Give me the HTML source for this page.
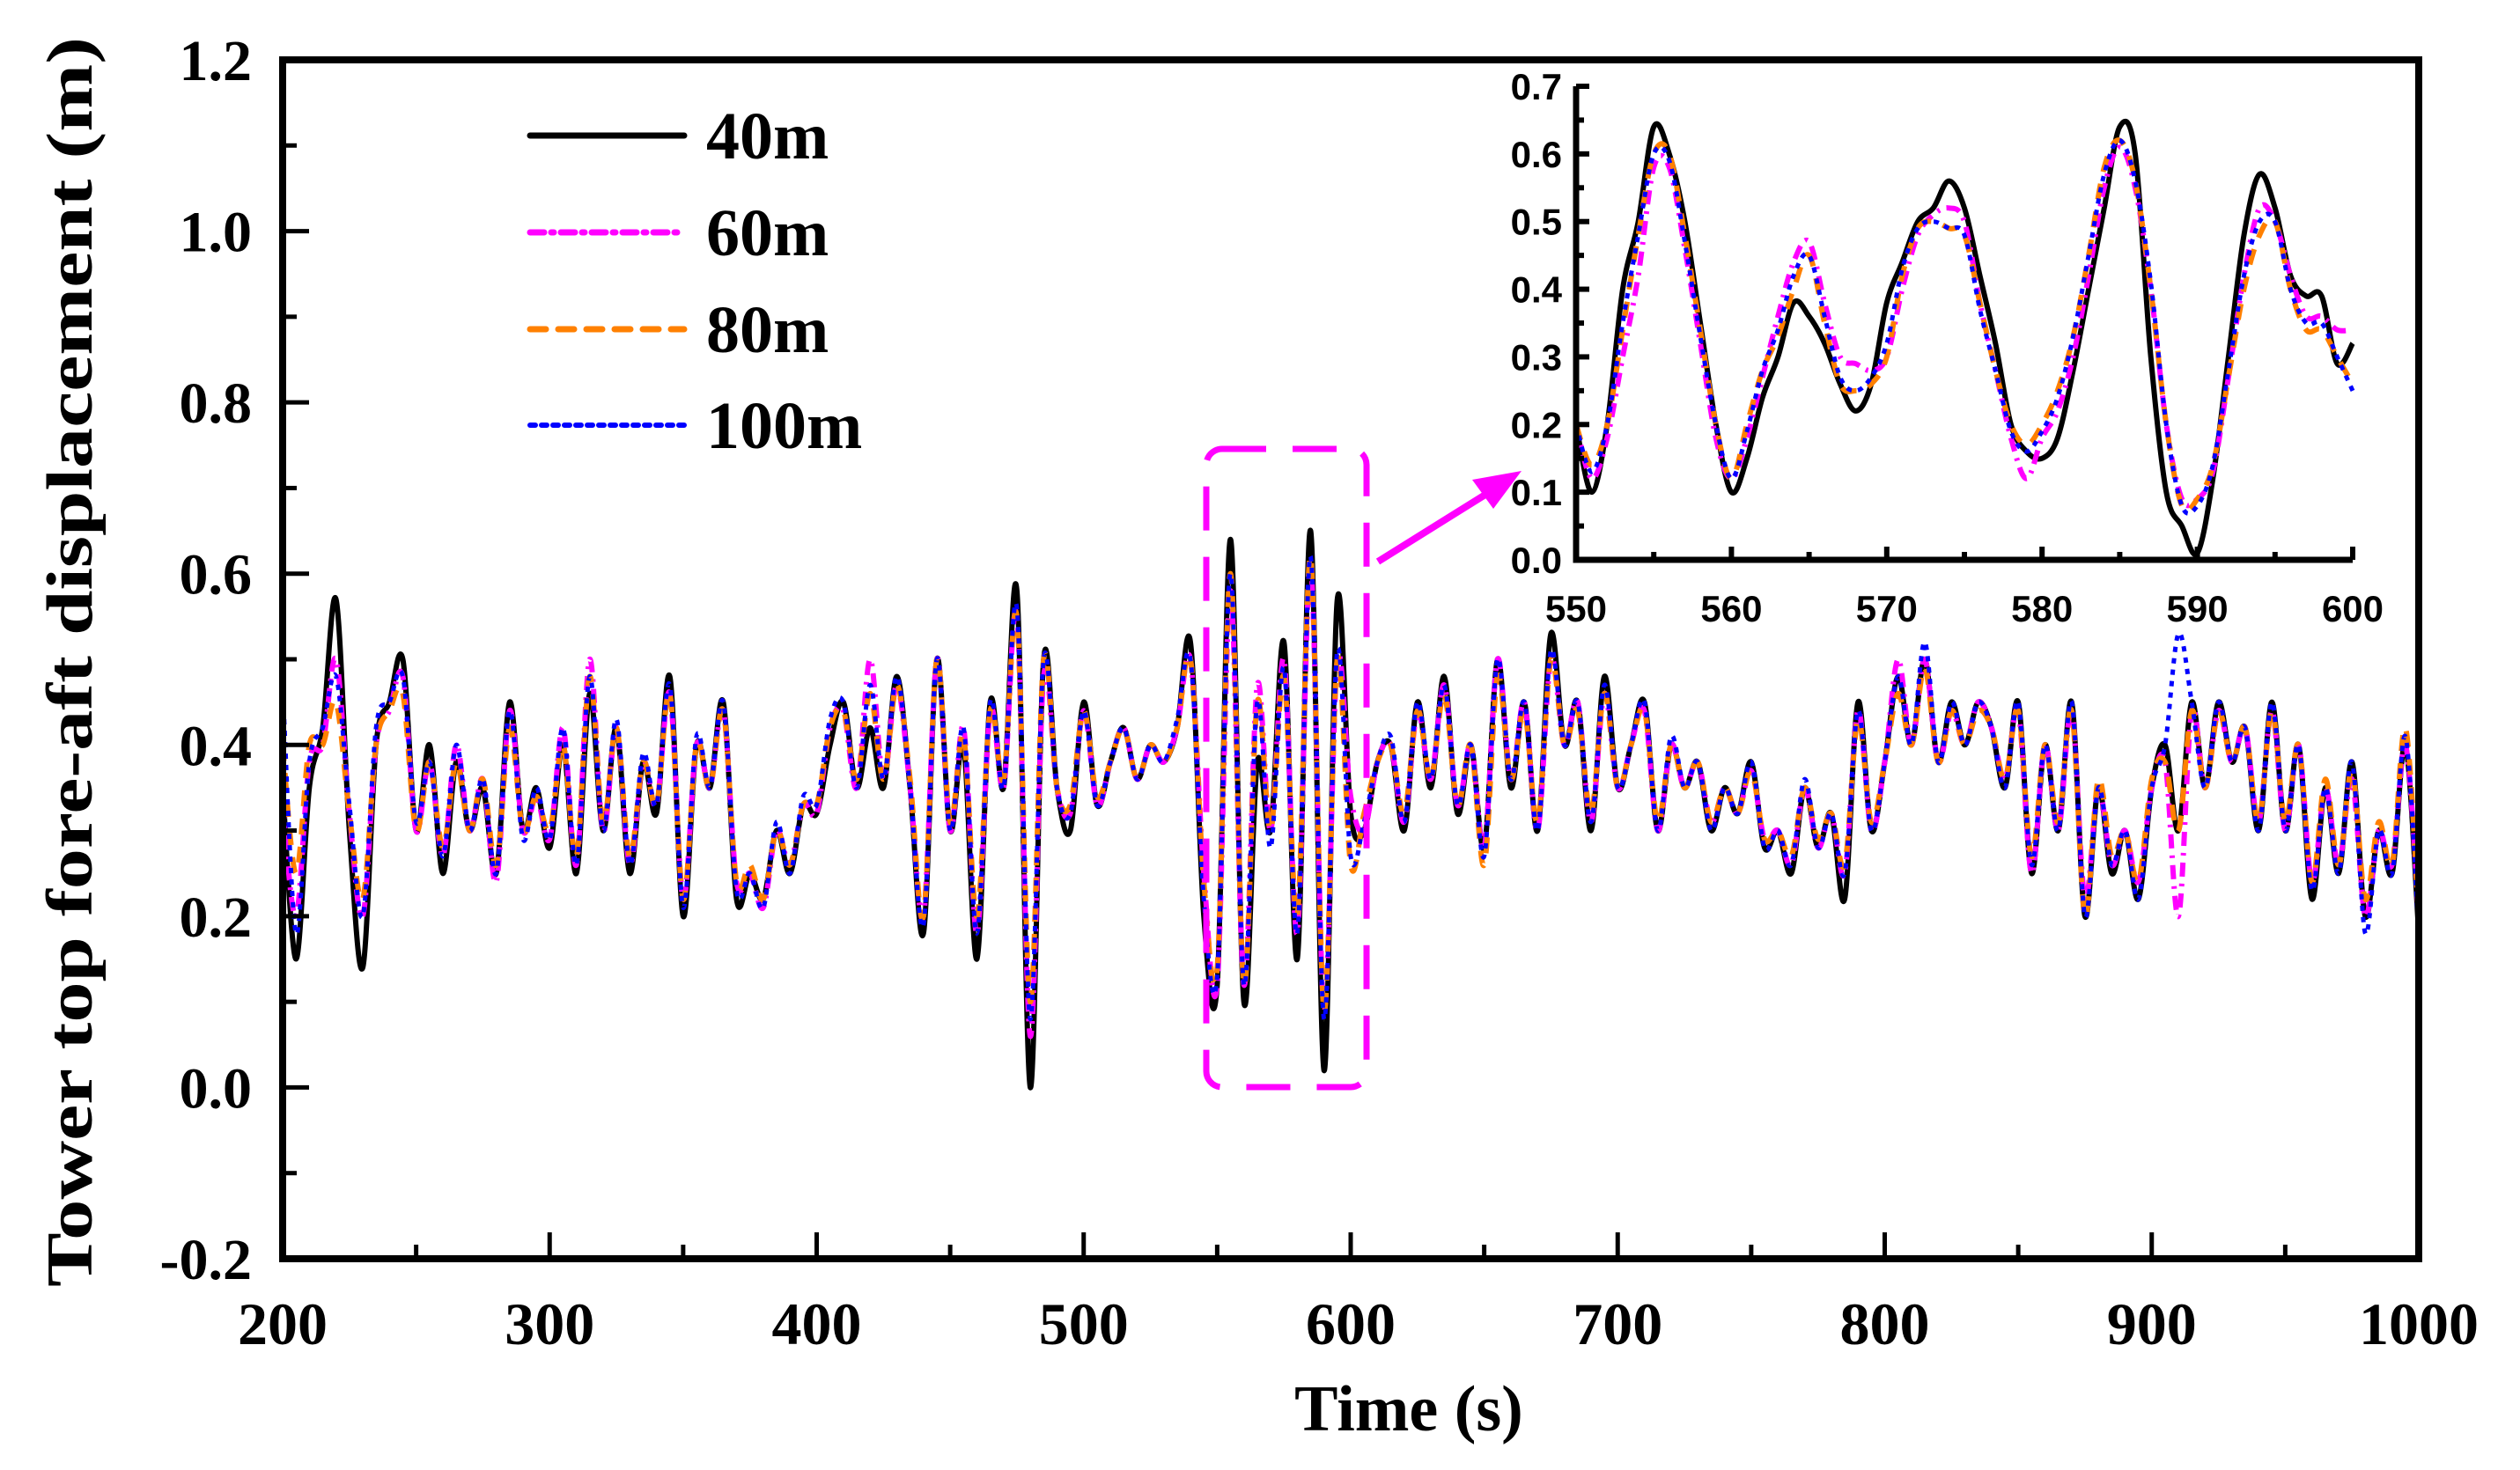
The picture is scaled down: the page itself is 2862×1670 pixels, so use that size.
<!DOCTYPE html>
<html><head><meta charset="utf-8"><style>
html,body{margin:0;padding:0;background:#fff;}
svg{display:block;}
</style></head><body>
<svg id="chart" width="2862" height="1670" viewBox="0 0 2862 1670" xmlns="http://www.w3.org/2000/svg">
<g id="main"></g>
<g id="inset"></g>
<g id="legend"></g>
</svg>
<script>
// ---------- main chart data (t = 200..1000 step 5) ----------
const mainStart = 200, mainStep = 5;
const s40 = [0.35,0.15,0.35,0.42,0.57,0.3,0.14,0.4,0.45,0.5,
0.3,0.4,0.25,0.38,0.3,0.35,0.25,0.45,0.3,0.35,
0.28,0.4,0.25,0.46,0.3,0.42,0.25,0.38,0.32,0.48,
0.2,0.4,0.35,0.45,0.22,0.25,0.22,0.3,0.25,0.33,
0.32,0.4,0.45,0.35,0.42,0.35,0.48,0.35,0.18,0.5,
0.3,0.4,0.15,0.45,0.35,0.58,0.0,0.5,0.35,0.3,
0.45,0.33,0.38,0.42,0.36,0.4,0.38,0.42,0.52,0.2,
0.12,0.64,0.1,0.38,0.3,0.52,0.15,0.65,0.02,0.57,
0.32,0.3,0.38,0.4,0.3,0.45,0.35,0.48,0.32,0.4,
0.28,0.5,0.35,0.45,0.3,0.53,0.4,0.45,0.3,0.48,
0.35,0.4,0.45,0.3,0.4,0.35,0.38,0.3,0.35,0.32,
0.38,0.28,0.3,0.25,0.35,0.28,0.32,0.22,0.45,0.3,
0.38,0.48,0.4,0.5,0.38,0.45,0.4,0.45,0.42,0.35,
0.45,0.25,0.4,0.3,0.45,0.2,0.35,0.25,0.3,0.22,
0.35,0.4,0.3,0.45,0.35,0.45,0.38,0.42,0.3,0.45,
0.3,0.4,0.22,0.35,0.25,0.38,0.2,0.3,0.25,0.4,0.18];
const s60 = [0.33,0.2,0.38,0.4,0.5,0.32,0.2,0.4,0.44,0.48,
0.3,0.38,0.27,0.4,0.3,0.36,0.24,0.44,0.3,0.34,
0.29,0.42,0.26,0.5,0.3,0.42,0.26,0.38,0.33,0.46,
0.22,0.4,0.35,0.44,0.24,0.25,0.21,0.3,0.26,0.33,
0.32,0.42,0.44,0.35,0.5,0.36,0.47,0.35,0.2,0.5,
0.3,0.42,0.18,0.44,0.35,0.55,0.06,0.48,0.35,0.32,
0.44,0.33,0.38,0.42,0.36,0.4,0.38,0.42,0.5,0.25,
0.12,0.58,0.12,0.47,0.3,0.5,0.18,0.61,0.09,0.5,
0.34,0.3,0.38,0.4,0.31,0.44,0.36,0.47,0.33,0.4,
0.28,0.5,0.36,0.45,0.3,0.5,0.4,0.45,0.31,0.46,
0.35,0.4,0.44,0.3,0.4,0.35,0.38,0.31,0.35,0.32,
0.37,0.29,0.3,0.26,0.35,0.28,0.32,0.25,0.44,0.3,
0.38,0.5,0.4,0.5,0.38,0.44,0.4,0.45,0.42,0.36,
0.44,0.25,0.4,0.3,0.44,0.22,0.35,0.26,0.3,0.24,
0.35,0.38,0.2,0.44,0.35,0.44,0.38,0.42,0.31,0.44,
0.3,0.4,0.24,0.35,0.26,0.36,0.2,0.3,0.26,0.4,0.2];
const s80 = [0.4,0.25,0.4,0.4,0.45,0.32,0.22,0.4,0.44,0.46,
0.3,0.38,0.28,0.38,0.3,0.36,0.26,0.42,0.3,0.34,
0.3,0.4,0.27,0.48,0.31,0.42,0.27,0.38,0.33,0.46,
0.22,0.4,0.35,0.44,0.24,0.26,0.22,0.3,0.26,0.33,
0.33,0.42,0.44,0.36,0.46,0.36,0.47,0.36,0.2,0.5,
0.31,0.41,0.2,0.44,0.36,0.55,0.1,0.5,0.35,0.33,
0.44,0.34,0.38,0.42,0.36,0.4,0.38,0.42,0.5,0.24,
0.14,0.6,0.12,0.45,0.3,0.48,0.2,0.62,0.09,0.5,
0.26,0.32,0.38,0.4,0.32,0.44,0.36,0.46,0.33,0.4,
0.26,0.48,0.36,0.44,0.31,0.5,0.4,0.44,0.32,0.46,
0.35,0.4,0.44,0.31,0.4,0.35,0.38,0.31,0.35,0.32,
0.37,0.29,0.3,0.27,0.35,0.29,0.32,0.26,0.43,0.31,
0.38,0.46,0.4,0.49,0.38,0.44,0.4,0.44,0.42,0.36,
0.44,0.27,0.4,0.31,0.44,0.2,0.36,0.27,0.3,0.24,
0.36,0.38,0.3,0.44,0.35,0.44,0.38,0.42,0.31,0.44,
0.31,0.4,0.24,0.36,0.26,0.37,0.22,0.31,0.26,0.42,0.2];
const s100 = [0.47,0.18,0.38,0.42,0.48,0.33,0.2,0.42,0.45,0.48,
0.31,0.38,0.27,0.4,0.3,0.36,0.25,0.44,0.29,0.35,
0.29,0.42,0.26,0.48,0.3,0.43,0.26,0.39,0.33,0.47,
0.21,0.41,0.35,0.45,0.23,0.25,0.21,0.31,0.25,0.34,
0.33,0.43,0.45,0.35,0.47,0.36,0.48,0.35,0.19,0.5,
0.3,0.42,0.18,0.45,0.35,0.56,0.08,0.5,0.35,0.32,
0.44,0.33,0.38,0.42,0.36,0.4,0.38,0.43,0.5,0.22,
0.13,0.6,0.12,0.45,0.28,0.49,0.18,0.62,0.08,0.51,
0.27,0.31,0.38,0.41,0.31,0.45,0.36,0.47,0.33,0.4,
0.27,0.5,0.36,0.45,0.3,0.51,0.4,0.45,0.31,0.47,
0.35,0.4,0.45,0.3,0.41,0.35,0.38,0.3,0.35,0.32,
0.38,0.28,0.3,0.26,0.36,0.28,0.32,0.25,0.44,0.3,
0.38,0.48,0.4,0.52,0.38,0.45,0.4,0.45,0.42,0.35,
0.45,0.26,0.4,0.3,0.45,0.2,0.35,0.26,0.3,0.22,
0.35,0.4,0.53,0.45,0.35,0.45,0.38,0.42,0.3,0.45,
0.3,0.4,0.23,0.35,0.25,0.38,0.18,0.3,0.25,0.41,0.18];
const mainXTicks = [200,300,400,500,600,700,800,900,1000];
const mainXTickLabels = ["200","300","400","500","600","700","800","900","1000"];
const mainYTicks = [-0.2,0,0.2,0.4,0.6,0.8,1.0,1.2];
const mainYTickLabels = ["-0.2","0.0","0.2","0.4","0.6","0.8","1.0","1.2"];
const seriesNames = ["40m","60m","80m","100m"];

// ---------- inset data (t = 550..600 step 1) ----------
const insetStart = 550, insetStep = 1;
const i40 = [0.2,0.1,0.2,0.4,0.5,0.64,0.6,0.5,0.35,0.2,0.1,0.15,0.24,0.3,0.38,0.36,0.32,0.26,0.22,0.26,0.38,0.44,0.5,0.52,0.56,0.52,0.42,0.32,0.2,0.16,0.15,0.18,0.28,0.4,0.52,0.64,0.6,0.3,0.1,0.05,0.01,0.12,0.3,0.48,0.57,0.52,0.42,0.39,0.39,0.29,0.32];
const i60 = [0.2,0.12,0.18,0.3,0.42,0.58,0.58,0.46,0.32,0.18,0.12,0.18,0.27,0.36,0.44,0.47,0.38,0.3,0.29,0.28,0.3,0.4,0.48,0.51,0.52,0.5,0.38,0.28,0.18,0.12,0.18,0.22,0.3,0.42,0.55,0.61,0.55,0.4,0.2,0.09,0.09,0.13,0.27,0.42,0.52,0.5,0.42,0.36,0.36,0.34,0.34];
const i80 = [0.2,0.14,0.2,0.34,0.48,0.6,0.6,0.48,0.34,0.2,0.12,0.2,0.28,0.33,0.4,0.45,0.35,0.26,0.25,0.26,0.3,0.42,0.49,0.5,0.49,0.48,0.38,0.28,0.2,0.17,0.2,0.25,0.33,0.45,0.58,0.62,0.56,0.4,0.2,0.08,0.09,0.14,0.27,0.4,0.48,0.5,0.4,0.34,0.34,0.3,0.26];
const i100 = [0.2,0.13,0.2,0.35,0.48,0.6,0.59,0.47,0.33,0.2,0.12,0.19,0.28,0.34,0.42,0.45,0.36,0.27,0.25,0.27,0.32,0.43,0.49,0.5,0.49,0.48,0.37,0.28,0.19,0.16,0.19,0.24,0.33,0.45,0.57,0.62,0.56,0.41,0.2,0.08,0.08,0.14,0.28,0.42,0.5,0.5,0.4,0.35,0.35,0.3,0.25];
const insetXTicks = [550,560,570,580,590,600];
const insetXTickLabels = ["550","560","570","580","590","600"];
const insetYTicks = [0,0.1,0.2,0.3,0.4,0.5,0.6,0.7];
const insetYTickLabels = ["0.0","0.1","0.2","0.3","0.4","0.5","0.6","0.7"];

const NS = "http://www.w3.org/2000/svg";
function mk(parent, tag, attrs, text){
  const e = document.createElementNS(NS, tag);
  for (const k in attrs) e.setAttribute(k, attrs[k]);
  if (text !== undefined) e.textContent = text;
  parent.appendChild(e);
  return e;
}
function smoothPath(pts){
  let d = "M" + pts[0][0].toFixed(1) + " " + pts[0][1].toFixed(1);
  for (let i = 0; i < pts.length - 1; i++) {
    const p0 = pts[Math.max(0, i-1)], p1 = pts[i], p2 = pts[i+1], p3 = pts[Math.min(pts.length-1, i+2)];
    const c1x = p1[0] + (p2[0]-p0[0])/6, c1y = p1[1] + (p2[1]-p0[1])/6;
    const c2x = p2[0] - (p3[0]-p1[0])/6, c2y = p2[1] - (p3[1]-p1[1])/6;
    d += " C" + c1x.toFixed(1) + " " + c1y.toFixed(1) + " " + c2x.toFixed(1) + " " + c2y.toFixed(1) + " " + p2[0].toFixed(1) + " " + p2[1].toFixed(1);
  }
  return d;
}
const styles = [
  {stroke:"#000000", w:6, dash:""},
  {stroke:"#ff00ff", w:6, dash:"16 8 3 8"},
  {stroke:"#ff8000", w:6, dash:"18 14"},
  {stroke:"#0000ff", w:5, dash:"6 7"}
];

// ---------- main axes ----------
const M = {l:321, r:2747, t:68, b:1430, x0:200, x1:1000, y0:-0.2, y1:1.2};
const mx = v => M.l + (v - M.x0) / (M.x1 - M.x0) * (M.r - M.l);
const my = v => M.b - (v - M.y0) / (M.y1 - M.y0) * (M.b - M.t);
const main = document.getElementById("main");

const clip = mk(main, "clipPath", {id:"mclip"});
mk(clip, "rect", {x:M.l, y:M.t, width:M.r-M.l, height:M.b-M.t});

const seriesG = mk(main, "g", {"clip-path":"url(#mclip)"});
[s40, s60, s80, s100].forEach((arr, i) => {
  const pts = arr.map((v, k) => [mx(mainStart + k * mainStep), my(v)]);
  const p = mk(seriesG, "path", {d:smoothPath(pts), fill:"none", stroke:styles[i].stroke, "stroke-width":styles[i].w, "stroke-dasharray":styles[i].dash, "stroke-linejoin":"round"});
  
  
});

const frame = mk(main, "rect", {x:M.l, y:M.t, width:M.r-M.l, height:M.b-M.t, fill:"none", stroke:"#000", "stroke-width":8});



for (let v = 250; v < 1000; v += 100) {
  mk(main, "line", {x1:mx(v), x2:mx(v), y1:M.b, y2:M.b-16, stroke:"#000", "stroke-width":5});
}
for (let v = -0.1; v < 1.2; v += 0.2) {
  mk(main, "line", {x1:M.l, x2:M.l+16, y1:my(v), y2:my(v), stroke:"#000", "stroke-width":5});
}
mainXTicks.forEach((v, i) => {
  mk(main, "line", {x1:mx(v), x2:mx(v), y1:M.b, y2:M.b-30, stroke:"#000", "stroke-width":5});
  const t = mk(main, "text", {x:mx(v), y:1527, "text-anchor":"middle", "font-family":"Liberation Serif, serif", "font-weight":"bold", "font-size":68}, mainXTickLabels[i]);
  
  
});
mainYTicks.forEach((v, i) => {
  mk(main, "line", {x1:M.l, x2:M.l+30, y1:my(v), y2:my(v), stroke:"#000", "stroke-width":5});
  const t = mk(main, "text", {x:286, y:my(v)+23, "text-anchor":"end", "font-family":"Liberation Serif, serif", "font-weight":"bold", "font-size":66}, mainYTickLabels[i]);
  
  
});
const xt = mk(main, "text", {x:1600, y:1625, "text-anchor":"middle", "font-family":"Liberation Serif, serif", "font-weight":"bold", "font-size":74}, "Time (s)");


const yt = mk(main, "text", {x:0, y:0, transform:"translate(104,752) rotate(-90)", "text-anchor":"middle", "font-family":"Liberation Serif, serif", "font-weight":"bold", "font-size":74, textLength:1420, lengthAdjust:"spacingAndGlyphs"}, "Tower top fore-aft displacement (m)");



// zoom rectangle + arrow
const zr = mk(main, "rect", {x:1370, y:510, width:182, height:725, rx:18, fill:"none", stroke:"#ff00ff", "stroke-width":7, "stroke-dasharray":"50 30"});


const ar = mk(main, "line", {x1:1565, y1:638, x2:1690, y2:560, stroke:"#ff00ff", "stroke-width":8});


const ah = mk(main, "polygon", {points:"1728,535 1672,545 1696,578", fill:"#ff00ff"});



// ---------- legend ----------
const legend = document.getElementById("legend");
const legY = [154, 264, 374, 483];
seriesNames.forEach((n, i) => {
  const g = mk(legend, "g", {});
  
  
  mk(g, "line", {x1:602, x2:777, y1:legY[i], y2:legY[i], stroke:styles[i].stroke, "stroke-width":styles[i].w + 1, "stroke-dasharray":styles[i].dash, "stroke-linecap":"round"});
  mk(g, "text", {x:802, y:legY[i]+26, "font-family":"Liberation Serif, serif", "font-weight":"bold", "font-size":76}, n);
});

// ---------- inset ----------
const I = {l:1790, r:2672, t:98, b:636, x0:550, x1:600, y0:0, y1:0.7};
const ix = v => I.l + (v - I.x0) / (I.x1 - I.x0) * (I.r - I.l);
const iy = v => I.b - (v - I.y0) / (I.y1 - I.y0) * (I.b - I.t);
const inset = document.getElementById("inset");
[i40, i60, i80, i100].forEach((arr, i) => {
  const pts = arr.map((v, k) => [ix(insetStart + k * insetStep), iy(v)]);
  const p = mk(inset, "path", {d:smoothPath(pts), fill:"none", stroke:styles[i].stroke, "stroke-width":styles[i].w, "stroke-dasharray":styles[i].dash, "stroke-linejoin":"round"});
  
  
});
mk(inset, "path", {d:`M${I.l} ${I.t} L${I.l} ${I.b} L${I.r} ${I.b}`, fill:"none", stroke:"#000", "stroke-width":7});
for (let v = 555; v < 600; v += 10) mk(inset, "line", {x1:ix(v), x2:ix(v), y1:I.b, y2:I.b-9, stroke:"#000", "stroke-width":6});
for (let v = 0.05; v < 0.7; v += 0.1) mk(inset, "line", {x1:I.l, x2:I.l+9, y1:iy(v), y2:iy(v), stroke:"#000", "stroke-width":6});
insetXTicks.forEach((v, i) => {
  mk(inset, "line", {x1:ix(v), x2:ix(v), y1:I.b, y2:I.b-15, stroke:"#000", "stroke-width":6});
  const t = mk(inset, "text", {x:ix(v), y:706, "text-anchor":"middle", "font-family":"Liberation Sans, sans-serif", "font-weight":"bold", "font-size":42}, insetXTickLabels[i]);
  
  
});
insetYTicks.forEach((v, i) => {
  mk(inset, "line", {x1:I.l, x2:I.l+15, y1:iy(v), y2:iy(v), stroke:"#000", "stroke-width":6});
  const t = mk(inset, "text", {x:1774, y:iy(v)+15, "text-anchor":"end", "font-family":"Liberation Sans, sans-serif", "font-weight":"bold", "font-size":42}, insetYTickLabels[i]);
  
  
});
</script>
</body></html>
